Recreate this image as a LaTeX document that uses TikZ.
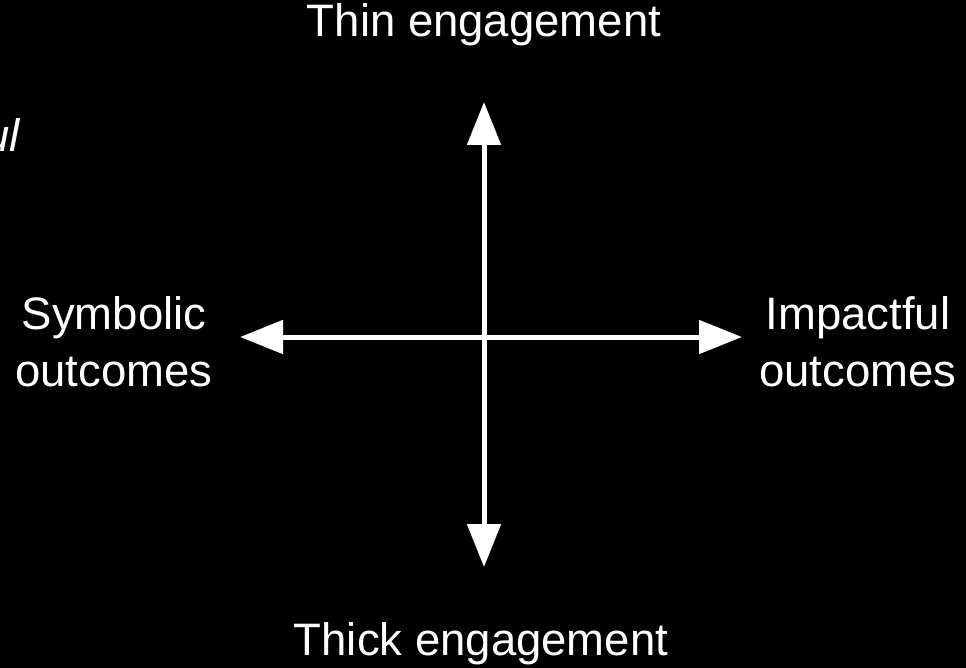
\documentclass[tikz,border=0pt]{standalone}
\usepackage{fontspec}
\setmainfont{Liberation Sans}
\usepackage{tikz}
\usetikzlibrary{arrows.meta, positioning}

\begin{document}
\begin{tikzpicture}[
    x=1pt, y=-1pt,
    label/.style={text=white, align=center, inner sep=0pt, font=\fontsize{45.5}{57}\selectfont},
    axis/.style={{Triangle[length=43pt,width=33pt]}-{Triangle[length=43pt,width=33pt]}, white, line width=5pt}
]
\fill[black] (0,0) rectangle (966,668);
\useasboundingbox (0,0) rectangle (966,668);

\coordinate (north) at (484,102);
\coordinate (south) at (484,567);
\coordinate (west) at (240,337);
\coordinate (east) at (742,337);

\node[label, anchor=base] (thin) at (484,37) {Thin engagement};
\node[label, anchor=base] (thick) at (481,655) {Thick engagement};
\node[label] (symb) at (114,342) {Symbolic\\outcomes};
\node[label] (impact) at (858,342) {Impactful\\outcomes};
\node[label, anchor=base east, font=\fontsize{45.5}{57}\selectfont\itshape] (frag) at (20,152) {ul};

\draw[axis] (south) -- (north);
\draw[axis] (west) -- (east);
\end{tikzpicture}
\end{document}
